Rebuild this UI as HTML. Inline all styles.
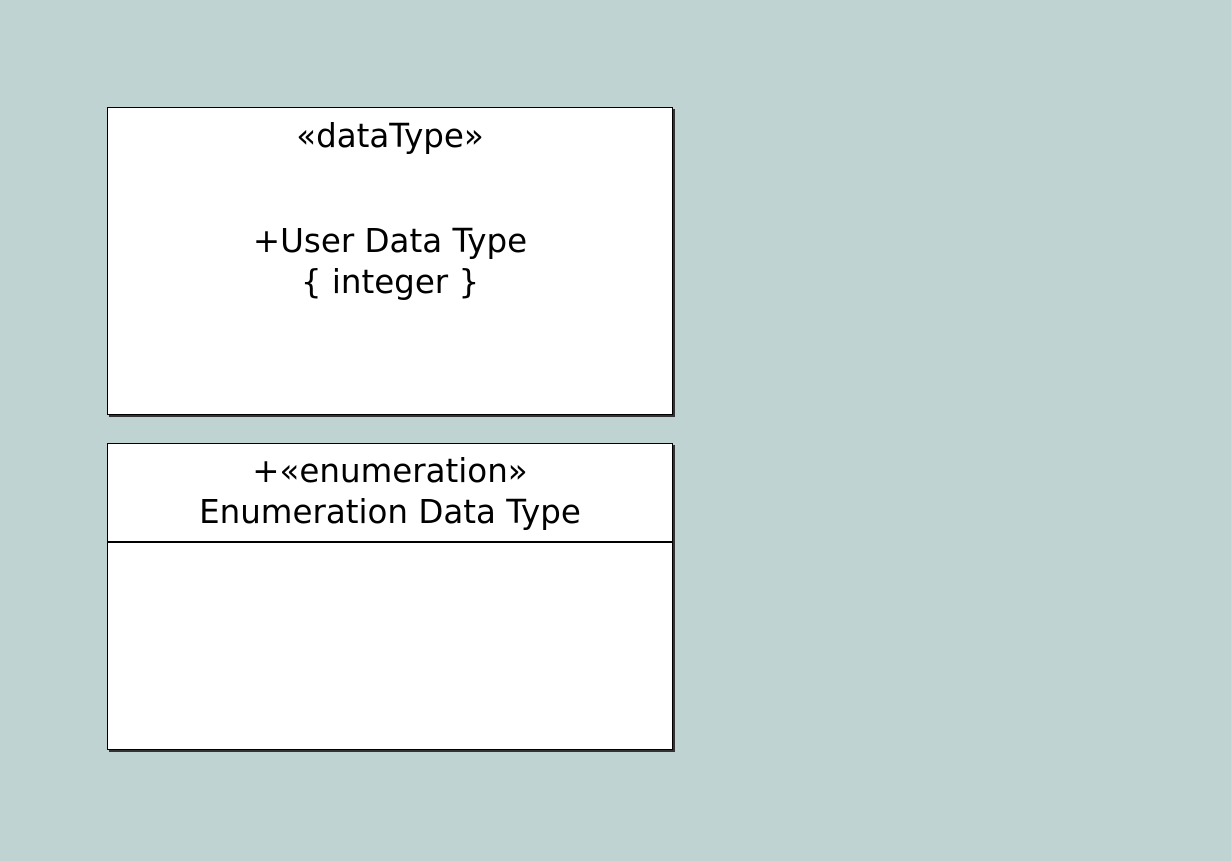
<!DOCTYPE html>
<html><head><style>
html,body{margin:0;padding:0}
body{width:1231px;height:861px;background:#bfd3d2;position:relative;overflow:hidden;font-family:"DejaVu Sans","Liberation Sans",sans-serif;color:#000}
.box{position:absolute;background:#fff;border:1.5px solid #000;box-shadow:2px 2px 0 #333;box-sizing:border-box}
.t{position:absolute;left:0;right:0;text-align:center;font-size:32.5px;line-height:41px}
</style></head><body>
<div class="box" style="left:107px;top:107px;width:566px;height:308px">
  <div class="t" style="top:8px">«dataType»</div>
  <div class="t" style="top:113px">+User Data Type<br>{ integer }</div>
</div>
<div class="box" style="left:107px;top:443px;width:566px;height:307px">
  <div class="t" style="top:7px">+«enumeration»<br>Enumeration Data Type</div>
  <div style="position:absolute;left:0;right:0;top:97px;border-top:2px solid #000"></div>
</div>
</body></html>
